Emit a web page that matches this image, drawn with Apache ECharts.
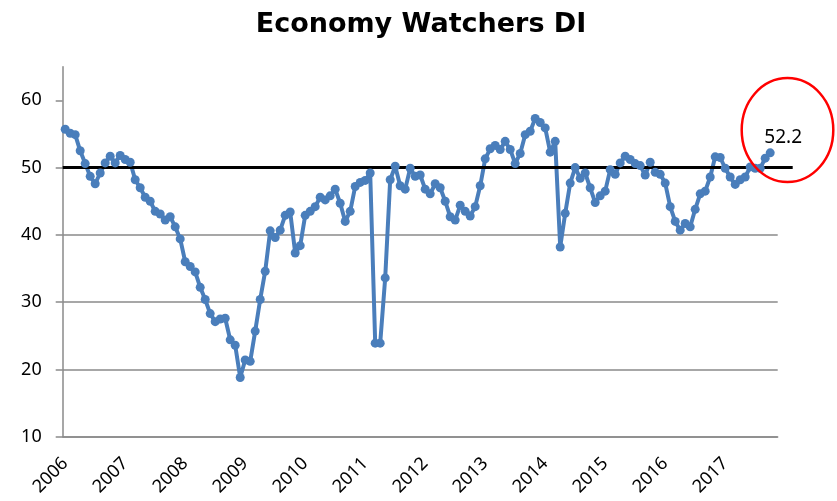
<!DOCTYPE html>
<html>
<head>
<meta charset="utf-8">
<title>Economy Watchers DI</title>
<script src="https://cdn.jsdelivr.net/npm/echarts@6/dist/echarts.min.js"></script>
<style>
html, body { margin: 0; padding: 0; background: #fff; }
#chart { width: 837px; height: 501px; }
</style>
</head>
<body>
<div id="chart"></div>
<script>
// monthly categories Jan 2006 .. Nov 2017 (Nov has no reading yet)
var years = [2006, 2007, 2008, 2009, 2010, 2011, 2012, 2013, 2014, 2015, 2016, 2017];
var lastMonth = '2017-11';
var months = [];
years.forEach(function (y) {
	for (var m = 1; m <= 12; m++) {
		var key = y + '-' + (m < 10 ? '0' + m : m);
		if (key <= lastMonth) months.push(key);
	}
});

// DI readings, one row per year
var di2006 = [55.7, 55.1, 54.9, 52.5, 50.6, 48.7, 47.6, 49.2, 50.7, 51.7, 50.7, 51.8];
var di2007 = [51.2, 50.8, 48.2, 47.0, 45.6, 45.0, 43.5, 43.1, 42.2, 42.7, 41.2, 39.4];
var di2008 = [36.0, 35.3, 34.5, 32.2, 30.4, 28.3, 27.1, 27.5, 27.6, 24.4, 23.6, 18.8];
var di2009 = [21.4, 21.2, 25.7, 30.4, 34.6, 40.6, 39.6, 40.7, 42.9, 43.4, 37.3, 38.4];
var di2010 = [42.9, 43.5, 44.2, 45.6, 45.2, 45.8, 46.8, 44.7, 42.0, 43.5, 47.2, 47.8];
var di2011 = [48.1, 49.2, 23.9, 23.9, 33.6, 48.2, 50.2, 47.3, 46.8, 49.9, 48.7, 48.9];
var di2012 = [46.8, 46.1, 47.6, 47.0, 45.0, 42.7, 42.2, 44.4, 43.5, 42.8, 44.2, 47.3];
var di2013 = [51.3, 52.8, 53.3, 52.7, 53.9, 52.7, 50.6, 52.1, 54.9, 55.4, 57.3, 56.7];
var di2014 = [55.9, 52.3, 53.9, 38.2, 43.2, 47.7, 50.0, 48.4, 49.2, 47.0, 44.8, 45.8];
var di2015 = [46.5, 49.7, 49.0, 50.7, 51.7, 51.2, 50.6, 50.3, 48.9, 50.8, 49.3, 49.0];
var di2016 = [47.7, 44.2, 42.0, 40.7, 41.7, 41.2, 43.8, 46.1, 46.5, 48.6, 51.6, 51.5];
var di2017 = [49.9, 48.6, 47.5, 48.2, 48.6, 50.1, 49.9, 49.9, 51.4, 52.2, null];

var diValues = [].concat(di2006, di2007, di2008, di2009, di2010, di2011,
	di2012, di2013, di2014, di2015, di2016, di2017);

var threshold = 50;
var yTicks = [10, 20, 30, 40, 50, 60];

// index of last real reading, gets the label and the red circle
var lastIdx = 0;
diValues.forEach(function (v, i) { if (v != null) lastIdx = i; });

var font = 'Noto Sans';
var axisGray = '#8a8a8a';

var myChart = echarts.init(document.getElementById('chart'));
var option = {
	animation: false,
	backgroundColor: '#fff',
	title: {
		text: 'Economy Watchers DI',
		left: 416,
		textAlign: 'center',
		top: 6,
		textStyle: {
			fontFamily: 'DejaVu Sans',
			fontWeight: 'bold',
			fontSize: 27,
			color: '#000'
		}
	},
	grid: [
		{ left: 62.7, right: 59.3, top: 66.7, bottom: 64.3 },
		{ left: 62.7, right: 44.3, top: 66.7, bottom: 64.3 } // black 50 line runs a bit past the plot
	],
	xAxis: [{
		type: 'category',
		data: months,
		boundaryGap: true,
		axisLine: { lineStyle: { color: axisGray, width: 1.5 } },
		axisTick: { interval: 11, length: 5, lineStyle: { color: axisGray, width: 1.5 } },
		axisLabel: {
			interval: 11,
			rotate: 45,
			margin: 24,
			fontFamily: font,
			fontSize: 18,
			color: '#000',
			formatter: function (v) { return v.slice(0, 4); }
		},
		splitLine: { show: false }
	}, {
		type: 'value',
		gridIndex: 1,
		min: 0,
		max: 1,
		show: false
	}],
	yAxis: [{
		type: 'value',
		min: 10,
		max: 65,
		interval: 10,
		axisLine: { show: true, lineStyle: { color: axisGray, width: 1.5 } },
		axisTick: { show: true, length: 7, customValues: yTicks, lineStyle: { color: axisGray, width: 1.5 } },
		axisLabel: { customValues: yTicks, margin: 21, fontFamily: font, fontSize: 18, color: '#000' },
		splitLine: { showMaxLine: false, lineStyle: { color: axisGray, width: 1.5 } }
	}, {
		type: 'value',
		gridIndex: 1,
		min: 10,
		max: 65,
		show: false
	}],
	series: [{
		name: 'Economy Watchers DI',
		type: 'line',
		data: diValues.map(function (v, i) {
			if (i === lastIdx) return { value: v, label: { show: true } };
			return v;
		}),
		color: '#4A7EBB',
		lineStyle: { width: 4 },
		symbol: 'circle',
		symbolSize: 9,
		showAllSymbol: true,
		label: {
			show: false,
			position: 'top',
			offset: [13, 4],
			fontFamily: font,
			fontSize: 19,
			color: '#000'
		},
		emphasis: { disabled: true }
	}, {
		name: 'threshold',
		type: 'line',
		xAxisIndex: 1,
		yAxisIndex: 1,
		data: [[0, threshold], [1, threshold]],
		symbol: 'none',
		lineStyle: { color: '#000', width: 3 },
		z: 3,
		emphasis: { disabled: true }
	}]
};
myChart.setOption(option);

// red circle around the latest reading
var p = myChart.convertToPixel({ seriesIndex: 0 }, [lastIdx, diValues[lastIdx]]);
myChart.setOption({
	graphic: [{
		type: 'ellipse',
		shape: { cx: p[0] + 17.3, cy: p[1] - 22.8, rx: 45.8, ry: 52 },
		style: { fill: 'none', stroke: '#ff0000', lineWidth: 2.5 },
		z: 10
	}]
});
</script>
</body>
</html>
